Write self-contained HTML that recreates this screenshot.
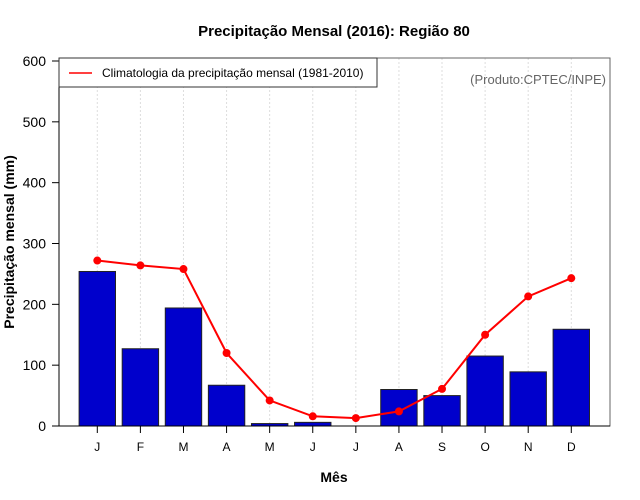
<!DOCTYPE html>
<html><head><meta charset="utf-8"><style>
body{margin:0;background:#fff;}
svg{display:block;font-family:"Liberation Sans",sans-serif;}
</style></head><body>
<svg id="chart" width="640" height="500">
<text x="334" y="36" text-anchor="middle" font-size="15" font-weight="bold">Precipitação Mensal (2016): Região 80</text>
<g id="grid"></g>
<g id="bars"></g>
<g id="line"></g>
<rect x="59" y="58" width="551" height="368" fill="none" stroke="#666" stroke-width="1"/>
<line x1="59" y1="426" x2="610" y2="426" stroke="#000"/>
<line x1="59" y1="58" x2="59" y2="426" stroke="#000"/>
<g id="yaxis"></g>
<g id="xaxis"></g>
<text x="334" y="482" text-anchor="middle" font-size="14" font-weight="bold">Mês</text>
<text transform="translate(14,242) rotate(-90)" text-anchor="middle" font-size="14" font-weight="bold">Precipitação mensal (mm)</text>
<g>
<rect x="59" y="58" width="318" height="29" fill="#fff" stroke="#333"/>
<line x1="69" y1="73" x2="92" y2="73" stroke="#f00" stroke-width="1.5"/>
<text x="102" y="77" font-size="12">Climatologia da precipitação mensal (1981-2010)</text>
</g>
<text x="606" y="84" text-anchor="end" font-size="13" fill="#666">(Produto:CPTEC/INPE)</text>
</svg>
<script>
const months=["J","F","M","A","M","J","J","A","S","O","N","D"];
const observed=[254,127,194,67,4,6,0,60,50,115,89,159];
const climatology=[272,264,258,120,42,16,13,24,61,150,213,243];
const yTicks=[0,100,200,300,400,500,600];
const NS="http://www.w3.org/2000/svg";
function y(v){return 426-v*365/600;}
function x(i){return 97.3+i*43.09;}
function mk(tag,attrs,parent){const e=document.createElementNS(NS,tag);for(const k in attrs)e.setAttribute(k,attrs[k]);document.getElementById(parent).appendChild(e);return e;}
months.forEach((m,i)=>{
 const g=mk('line',{x1:x(i),x2:x(i),y1:58,y2:426,stroke:'#ddd','stroke-dasharray':'2,2'},'grid');
 
 
 const b=mk('rect',{x:x(i)-18.2,y:y(observed[i]),width:36.4,height:426-y(observed[i]),fill:'#0000cc',stroke:'#222','stroke-width':1},'bars');
 
 
 const t=mk('line',{x1:x(i),x2:x(i),y1:426,y2:433,stroke:'#000'},'xaxis');
 
 
 const l=mk('text',{x:x(i),y:451,'text-anchor':'middle','font-size':12},'xaxis');
 l.textContent=m;
 
 
});
const pl=mk('polyline',{points:climatology.map((v,i)=>x(i)+','+y(v)).join(' '),fill:'none',stroke:'#f00','stroke-width':2},'line');


climatology.forEach((v,i)=>{
 const c=mk('circle',{cx:x(i),cy:y(v),r:4,fill:'#f00'},'line');
 
 
});
yTicks.forEach(v=>{
 const t=mk('line',{x1:52,x2:59,y1:y(v),y2:y(v),stroke:'#000'},'yaxis');
 
 
 const l=mk('text',{x:46,y:y(v)+5,'text-anchor':'end','font-size':14},'yaxis');
 l.textContent=v;
 
 
});
</script>
</body></html>
